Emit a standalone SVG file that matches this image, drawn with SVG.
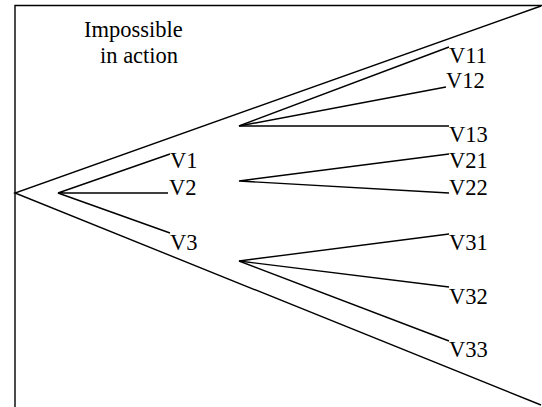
<svg xmlns="http://www.w3.org/2000/svg" width="542" height="407" viewBox="0 0 542 407">
<style>
.l{stroke:#000;stroke-width:1.4;fill:none}
.t{font-family:"Liberation Serif","Times New Roman",serif;font-size:22.5px;fill:#000}
</style>
<rect width="542" height="407" fill="#fff"/>
<g id="frame">
<polyline class="l" points="15,407 15,5.5 542,5.5"/>
</g>
<g id="title">
<text class="t" x="84" y="37">Impossible</text>
<text class="t" x="100" y="63">in action</text>
</g>
<g id="connectors">
<polyline class="l" points="541,6 15,193 541,405"/>
<polyline class="l" points="170,154 58,193 168,193"/>
<line class="l" x1="58" y1="193" x2="170" y2="233"/>
<polyline class="l" points="449,47 239,126 449,126"/>
<line class="l" x1="239" y1="126" x2="446" y2="87"/>
<polyline class="l" points="449,154 239,181 449,193"/>
<polyline class="l" points="449,234 239,261 449,287"/>
<line class="l" x1="239" y1="261" x2="449" y2="341"/>
</g>
<g id="V1"><text class="t" x="170" y="168">V1</text></g>
<g id="V2"><text class="t" x="169" y="195">V2</text></g>
<g id="V3"><text class="t" x="170" y="250">V3</text></g>
<g id="V11"><text class="t" x="449" y="63">V11</text></g>
<g id="V12"><text class="t" x="446" y="88">V12</text></g>
<g id="V13"><text class="t" x="449" y="142">V13</text></g>
<g id="V21"><text class="t" x="449" y="168">V21</text></g>
<g id="V22"><text class="t" x="449" y="195">V22</text></g>
<g id="V31"><text class="t" x="449" y="250">V31</text></g>
<g id="V32"><text class="t" x="449" y="304">V32</text></g>
<g id="V33"><text class="t" x="449" y="357">V33</text></g>
</svg>
